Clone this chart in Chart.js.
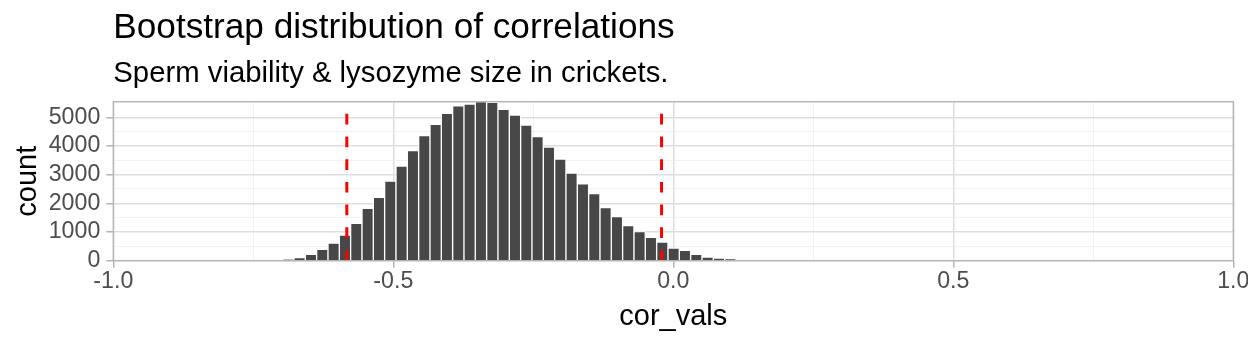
<!DOCTYPE HTML>
<html>
<head>
  <script src="https://cdn.jsdelivr.net/npm/chart.js"></script>
  <style>
    body { margin: 0; background: #ffffff; }
    #wrap { width: 1248px; height: 345px; }
  </style>
</head>
<body>
  <div id="wrap"><canvas id="histChart"></canvas></div>

  <script>
    // bin midpoints of the bootstrap histogram (cor_vals)
    var binMids = [
      -0.6875, -0.6673, -0.6470, -0.6268, -0.6065, -0.5863, -0.5661, -0.5458, -0.5256, -0.5054,
      -0.4851, -0.4649, -0.4446, -0.4244, -0.4042, -0.3839, -0.3637, -0.3435, -0.3232, -0.3030,
      -0.2827, -0.2625, -0.2423, -0.2220, -0.2018, -0.1816, -0.1613, -0.1411, -0.1208, -0.1006,
      -0.0804, -0.0601, -0.0399, -0.0196, 0.0006, 0.0208, 0.0411, 0.0613, 0.0815, 0.1018, 0.1220
    ];
    // count per bin
    var counts = [
      40, 105, 220, 395, 616, 895, 1300, 1825, 2208, 2777,
      3300, 3835, 4358, 4753, 5136, 5403, 5461, 5543, 5520, 5275,
      5078, 4729, 4323, 3962, 3544, 3056, 2684, 2336, 1848, 1534,
      1220, 1011, 813, 651, 443, 362, 223, 129, 84, 49, 20
    ];
    // 95% interval of the correlations (dashed red lines)
    var ciBounds = [-0.583, -0.021];

    // gridline positions; only the major ones get a label
    var xGrid = [-1, -0.75, -0.5, -0.25, 0, 0.25, 0.5, 0.75, 1];
    var xLabelled = [-1, -0.5, 0, 0.5, 1];
    var yGrid = [0, 500, 1000, 1500, 2000, 2500, 3000, 3500, 4000, 4500, 5000, 5500];
    var yLabelled = [0, 1000, 2000, 3000, 4000, 5000];

    var yMax = Math.max.apply(null, counts);

    Chart.defaults.font.family = "'Liberation Sans', Arial, sans-serif";

    function isMajorX(v) { return xLabelled.indexOf(v) >= 0; }
    function isMajorY(v) { return yLabelled.indexOf(v) >= 0; }

    var datasets = [{
      type: 'bar',
      order: 2,
      data: binMids.map(function (m, i) { return { x: m, y: counts[i] }; }),
      backgroundColor: '#474747',
      borderColor: '#ffffff',
      borderWidth: 1,
      borderSkipped: 'bottom',
      barPercentage: 1,
      categoryPercentage: 1
    }];
    ciBounds.forEach(function (b) {
      datasets.push({
        type: 'line',
        order: 1,
        data: [{ x: b, y: 0 }, { x: b, y: yMax }],
        borderColor: '#ff0000',
        borderWidth: 3,
        borderDash: [10.7, 12],
        pointRadius: 0,
        fill: false
      });
    });

    // grey outline around the plotting panel
    var panelBorder = {
      id: 'panelBorder',
      afterDatasetsDraw: function (chart) {
        var a = chart.chartArea, c = chart.ctx;
        c.save();
        c.strokeStyle = '#b3b3b3';
        c.lineWidth = 1.3;
        c.strokeRect(a.left, a.top, a.right - a.left, a.bottom - a.top);
        c.restore();
      }
    };

    new Chart(document.getElementById('histChart'), {
      type: 'bar',
      data: { datasets: datasets },
      plugins: [panelBorder],
      options: {
        responsive: true,
        maintainAspectRatio: false,
        animation: false,
        layout: { padding: { top: 0, right: 14.7, bottom: 0, left: 0 } },
        plugins: {
          legend: { display: false },
          tooltip: { enabled: false },
          title: {
            display: true,
            text: 'Bootstrap distribution of correlations',
            align: 'start',
            fullSize: false,
            color: '#000000',
            font: { size: 35.2, weight: 'normal' },
            padding: { top: 7, bottom: 0 }
          },
          subtitle: {
            display: true,
            text: 'Sperm viability & lysozyme size in crickets.',
            align: 'start',
            fullSize: false,
            color: '#000000',
            font: { size: 29.3, weight: 'normal' },
            padding: { top: 6.8, bottom: 10.5 }
          }
        },
        scales: {
          x: {
            type: 'linear',
            min: -1,
            max: 1,
            offset: false,
            border: { display: false },
            grid: {
              offset: false,
              color: function (ctx) { return isMajorX(ctx.tick.value) ? '#dedede' : '#eeeeee'; },
              lineWidth: function (ctx) { return isMajorX(ctx.tick.value) ? 1.5 : 0.8; },
              tickLength: 7,
              tickColor: function (ctx) { return isMajorX(ctx.tick.value) ? '#b3b3b3' : 'rgba(0,0,0,0)'; }
            },
            afterBuildTicks: function (s) { s.ticks = xGrid.map(function (v) { return { value: v }; }); },
            ticks: {
              autoSkip: false,
              maxRotation: 0,
              padding: 0,
              color: '#4d4d4d',
              font: { size: 23.2 },
              callback: function (v) { return isMajorX(v) ? Number(v).toFixed(1) : ''; }
            },
            title: {
              display: true,
              text: 'cor_vals',
              color: '#000000',
              font: { size: 29 },
              padding: { top: 0, bottom: 10.5 }
            },
            afterFit: function (s) { s.height = 84.3; s.paddingLeft = 0; s.paddingRight = 0; }
          },
          y: {
            min: 0,
            max: yMax,
            border: { display: false },
            grid: {
              color: function (ctx) { return isMajorY(ctx.tick.value) ? '#dedede' : '#eeeeee'; },
              lineWidth: function (ctx) { return isMajorY(ctx.tick.value) ? 1.5 : 0.8; },
              tickLength: 7,
              tickColor: function (ctx) { return isMajorY(ctx.tick.value) ? '#b3b3b3' : 'rgba(0,0,0,0)'; }
            },
            afterBuildTicks: function (s) { s.ticks = yGrid.map(function (v) { return { value: v }; }); },
            ticks: {
              autoSkip: false,
              padding: 6,
              color: '#4d4d4d',
              font: { size: 23.2 },
              callback: function (v) { return isMajorY(v) ? String(v) : ''; }
            },
            title: {
              display: true,
              text: 'count',
              color: '#000000',
              font: { size: 29 },
              padding: { top: 10.6, bottom: 0 }
            },
            afterFit: function (s) { s.width = 113.3; s.paddingTop = 0; s.paddingBottom = 0; }
          }
        }
      }
    });
  </script>
</body>
</html>
